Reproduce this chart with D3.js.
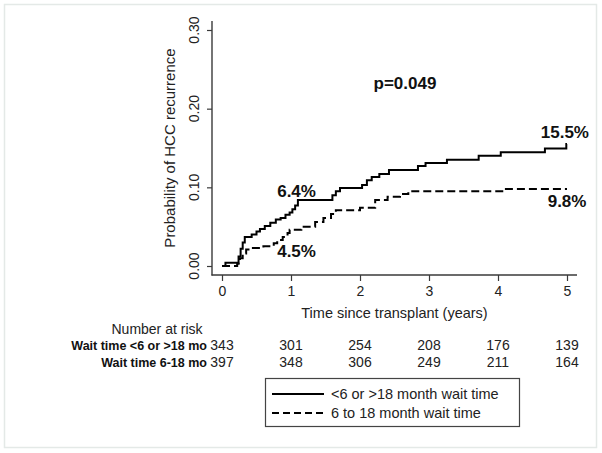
<!DOCTYPE html>
<html><head><meta charset="utf-8">
<script src="https://cdn.jsdelivr.net/npm/d3@7"></script>
<style>body{margin:0;background:#fff}svg{display:block}</style>
</head><body>
<svg id="c" width="602" height="453"></svg>
<script>
// ---- data ----
const solidT = [0,0.05,0.24,0.27,0.30,0.33,0.43,0.50,0.55,0.62,0.70,0.78,0.85,0.92,0.98,1.02,1.06,1.10,1.60,1.65,1.71,2.03,2.10,2.17,2.28,2.42,2.84,2.95,3.26,3.72,4.04,4.68,4.99,5.0];
const solidP = [0,0.004,0.012,0.022,0.030,0.037,0.040,0.044,0.047,0.051,0.055,0.059,0.061,0.065,0.068,0.072,0.077,0.084,0.090,0.095,0.099,0.103,0.109,0.113,0.117,0.122,0.127,0.131,0.135,0.140,0.1445,0.1495,0.155,0.155];
const dashT = [0,0.22,0.26,0.30,0.35,0.40,0.60,0.75,0.80,0.88,0.95,0.98,1.15,1.35,1.47,1.58,1.65,2.00,2.22,2.40,2.58,2.70,4.10,5.0];
const dashP = [0,0.003,0.010,0.016,0.021,0.023,0.025,0.029,0.033,0.037,0.042,0.046,0.050,0.056,0.061,0.066,0.071,0.074,0.084,0.088,0.0915,0.095,0.098,0.098];
const xTicks = [0,1,2,3,4,5];
const yTicks = [0,0.10,0.20,0.30];
const yTickLabels = ["0.00","0.10","0.20","0.30"];
const riskGroups = ["Wait time <6 or >18 mo","Wait time 6-18 mo"];
const riskSolid = [343,301,254,208,176,139];
const riskDash = [397,348,306,249,211,164];
const legendLabels = ["<6 or >18 month wait time","6 to 18 month wait time"];
const annotations = [
  {t:0.80,p:0.088,text:"6.4%"},
  {t:0.80,p:0.0114,text:"4.5%"},
  {t:4.62,p:0.163,text:"15.5%"},
  {t:4.72,p:0.075,text:"9.8%"}
];
const pText = "p=0.049";

// ---- drawing ----
const svg = d3.select("#c");
const font = "'Liberation Sans', Arial, sans-serif";
svg.append("rect").attr("x",4.5).attr("y",4.5).attr("width",592).attr("height",443)
  .attr("fill","#fff").attr("stroke","#e4e9e7").attr("stroke-width",1.5);

const x = d3.scaleLinear().domain([0,5]).range([222,567]);
const y = d3.scaleLinear().domain([0,0.30]).range([266,30]);
const axisCol = "#3a3a3a";

// axes lines
svg.append("line").attr("x1",212).attr("x2",212).attr("y1",21).attr("y2",275.5).attr("stroke",axisCol).attr("stroke-width",1.4);
svg.append("line").attr("x1",211.5).attr("x2",577).attr("y1",275).attr("y2",275).attr("stroke",axisCol).attr("stroke-width",1.4);

// y axis ticks
const yAx = svg.append("g").attr("transform","translate(212,0)")
  .call(d3.axisLeft(y).tickValues(yTicks).tickSize(5).tickFormat(""));
yAx.select(".domain").remove();
yAx.selectAll("line").attr("stroke",axisCol).attr("stroke-width",1.2);
yAx.selectAll("text").remove();
svg.selectAll("text.ytl").data(yTicks).join("text").attr("class","ytl")
  .attr("transform",d=>`translate(199,${y(d)}) rotate(-90)`).attr("text-anchor","middle")
  .attr("font-family",font).attr("font-size",14).attr("fill","#222").text((d,i)=>yTickLabels[i]);

// x axis ticks
const xAx = svg.append("g").attr("transform","translate(0,275)")
  .call(d3.axisBottom(x).tickValues(xTicks).tickSize(6).tickPadding(5).tickFormat(d3.format("d")));
xAx.select(".domain").remove();
xAx.selectAll("line").attr("stroke",axisCol).attr("stroke-width",1.2);
xAx.selectAll("text").attr("font-family",font).attr("font-size",14).attr("fill","#222");

// axis titles
svg.append("text").attr("transform","translate(175,148) rotate(-90)").attr("text-anchor","middle")
  .attr("font-family",font).attr("font-size",15).attr("fill","#222").text("Probability of HCC recurrence");
svg.append("text").attr("x",394.5).attr("y",318).attr("text-anchor","middle")
  .attr("font-family",font).attr("font-size",14.5).attr("fill","#222").text("Time since transplant (years)");

// curves
const line = d3.line().x(d=>x(d[0])).y(d=>y(d[1])).curve(d3.curveStepAfter);
svg.append("path").datum(d3.zip(solidT,solidP)).attr("d",line).attr("fill","none")
  .attr("stroke","#000").attr("stroke-width",2);
svg.append("path").datum(d3.zip(dashT,dashP)).attr("d",line).attr("fill","none")
  .attr("stroke","#000").attr("stroke-width",2).attr("stroke-dasharray","8,4");

// annotations
const bold = "'Liberation Sans', Arial, sans-serif";
svg.selectAll("text.ann").data(annotations).join("text").attr("class","ann")
  .attr("x",d=>x(d.t)).attr("y",d=>y(d.p)).attr("font-family",bold).attr("font-weight","bold")
  .attr("font-size",17).attr("fill","#111").text(d=>d.text);
svg.append("text").attr("x",405).attr("y",89).attr("text-anchor","middle").attr("font-family",bold)
  .attr("font-weight","bold").attr("font-size",17).attr("fill","#111").text(pText);

// number at risk
svg.append("text").attr("x",157).attr("y",334).attr("text-anchor","middle").attr("font-family",font)
  .attr("font-size",14).attr("fill","#222").text("Number at risk");
const rows = [riskSolid,riskDash];
const rowY = [350,367];
rows.forEach((vals,i)=>{
  svg.append("text").attr("x",207).attr("y",rowY[i]).attr("text-anchor","end").attr("font-family",bold)
    .attr("font-weight","bold").attr("font-size",12.5).attr("fill","#111").text(riskGroups[i]);
  svg.selectAll(null).data(vals).join("text").attr("x",(d,j)=>x(xTicks[j])).attr("y",rowY[i])
    .attr("text-anchor","middle").attr("font-family",font).attr("font-size",14).attr("fill","#222").text(d=>d);
});

// legend
svg.append("rect").attr("x",265.5).attr("y",378.5).attr("width",254).attr("height",48)
  .attr("fill","#fff").attr("stroke","#444").attr("stroke-width",1.2);
const dashes = [null,"7,4"];
legendLabels.forEach((lab,i)=>{
  const ly = 394 + i*19;
  svg.append("line").attr("x1",272).attr("x2",324).attr("y1",ly).attr("y2",ly).attr("stroke","#000")
    .attr("stroke-width",2).attr("stroke-dasharray",dashes[i]);
  svg.append("text").attr("x",331).attr("y",ly+5).attr("font-family",font).attr("font-size",14.5)
    .attr("fill","#222").text(lab);
});
</script>
</body></html>
